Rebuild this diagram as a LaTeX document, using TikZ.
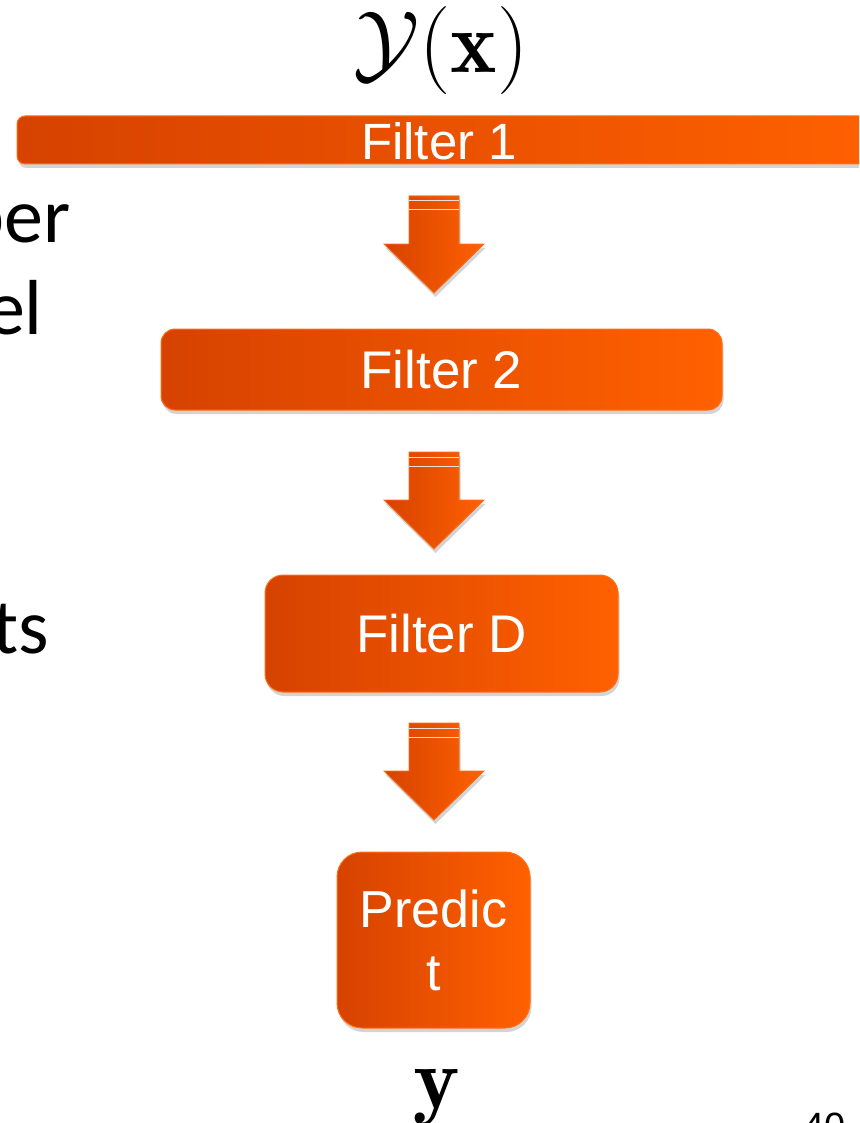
\documentclass[tikz,border=0pt]{standalone}
\usepackage{fix-cm}
\usepackage{fontspec}
\newfontfamily\arialfont{Liberation Sans}
\newfontfamily\bodyfont{Carlito}
\usetikzlibrary{shadows}

\definecolor{orL}{RGB}{214,66,0}
\definecolor{orR}{RGB}{255,97,0}
\definecolor{orB}{RGB}{255,112,24}
\definecolor{bandline}{RGB}{236,222,214}

\tikzset{
  softshadow/.style={drop shadow={shadow xshift=1.5pt, shadow yshift=-4pt, opacity=0.28, fill=black!60}},
  filterbox/.style={left color=orL, right color=orR, draw=orB, line width=1pt,
    inner sep=0pt, text=white, align=center, softshadow},
  boxlabel/.style={text=white, inner sep=0pt, font=\arialfont\fontsize{51}{58}\selectfont},
  bodytext/.style={inner sep=0pt, anchor=base east, font=\bodyfont\fontsize{78}{94}\selectfont},
  mathlabel/.style={inner sep=0pt, font=\fontsize{88}{100}\selectfont},
  blockarrow/.pic={
    \fill[left color=orL, right color=orR, draw=orB, line width=0.8pt, softshadow]
      (-25,0) -- (25,0) -- (25,48) -- (50,48) -- (0,97) -- (-50,48) -- (-25,48) -- cycle;
    \draw[bandline, line width=1pt] (-25,5) -- (25,5);
    \draw[bandline, line width=1pt] (-25,14) -- (25,14);
  }
}

\begin{document}
\begin{tikzpicture}[x=1pt,y=-1pt]
  \useasboundingbox (0,0) rectangle (859,1123);
  \clip (0,0) rectangle (859,1123);

  % input set
  \node[mathlabel] (yx) at (441,51) {$\mathcal{Y}(\mathbf{x})$};

  % filter cascade
  \node[filterbox, rounded corners=8pt, minimum width=870pt, minimum height=48pt]
    (f1) at (452,140) {};
  \node[boxlabel] (f1t) at (439,141) {Filter 1};

  \node[filterbox, rounded corners=14pt, minimum width=561pt, minimum height=81pt,
    font=\arialfont\fontsize{53}{60}\selectfont]
    (f2) at (441.5,369.5) {Filter 2};

  \node[filterbox, rounded corners=18pt, minimum width=353pt, minimum height=117pt,
    font=\arialfont\fontsize{53}{60}\selectfont]
    (fd) at (441.5,633.5) {Filter D};

  \node[filterbox, rounded corners=25pt, minimum width=193pt, minimum height=176pt,
    font=\arialfont\fontsize{52}{63}\selectfont]
    (pr) at (433.5,940) {Predic\\t};

  % block arrows between the stages
  \pic (a1) at (434,196) {blockarrow};
  \pic (a2) at (434,452) {blockarrow};
  \pic (a3) at (434,723) {blockarrow};

  % output
  \node[mathlabel] (y) at (436.5,1098) {$\mathbf{y}$};

  % body text on the left
  \node[bodytext] (w1) at (71,243) {per};
  \node[bodytext] (w2) at (43,334) {el};
  \node[bodytext] (w3) at (49,653) {ts};

  % slide number
  \node[inner sep=0pt, anchor=north west, font=\arialfont\fontsize{38}{44}\selectfont]
    (num) at (803,1113) {40};
\end{tikzpicture}
\end{document}
